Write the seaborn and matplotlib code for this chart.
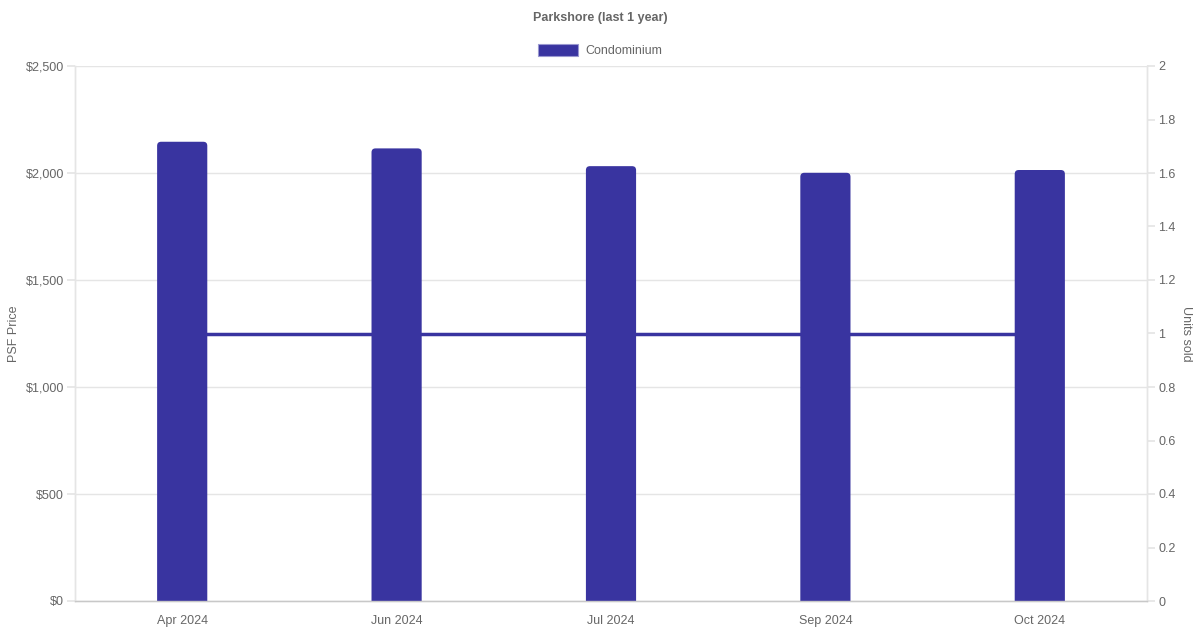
import matplotlib
matplotlib.use("Agg")
import matplotlib.pyplot as plt
import seaborn as sns
import pandas as pd
from matplotlib.ticker import FuncFormatter, MultipleLocator
from matplotlib.patches import Rectangle, FancyBboxPatch

months = ["Apr 2024", "Jun 2024", "Jul 2024", "Sep 2024", "Oct 2024"]
psf_price = [2146, 2115, 2032, 2001, 2014]
units_sold = [1, 1, 1, 1, 1]

df = pd.DataFrame({"month": months, "psf": psf_price, "units": units_sold})

sns.set_theme(style="white")
plt.rcParams["font.family"] = ["Liberation Sans", "DejaVu Sans"]

color = "#3934a0"
grey = "#666666"
gridc = "#e5e5e5"

fig = plt.figure(figsize=(12, 6.3), dpi=100)
ax = fig.add_axes([75/1200, 29/630, 1072/1200, 535/630])
ax2 = ax.twinx()

sns.barplot(data=df, x="month", y="psf", ax=ax, color=color, width=0.234,
            saturation=1, edgecolor=color, linewidth=0)
sns.lineplot(data=df, x="month", y="units", ax=ax2, color=color, linewidth=2.5,
             sort=False)

ax.set_ylim(0, 2500)
ax.set_xlim(-0.5, 4.5)

# rounded top corners: replace bar rectangles with rounded boxes (bottom hidden below axis)
px_x = 5 / 1072  # data units per pixel (x)
px_y = 2500 / 535
r_x = 4 * px_x
aspect = px_y / px_x
for p in list(ax.patches):
    x, y = p.get_x(), p.get_y()
    w, h = p.get_width(), p.get_height()
    fb = FancyBboxPatch((x, y - 40), w, h + 40,
                        boxstyle=f"round,pad=0,rounding_size={r_x}",
                        mutation_aspect=aspect, facecolor=color,
                        edgecolor="none", linewidth=0, zorder=p.get_zorder())
    fb.set_clip_on(True)
    p.remove()
    ax.add_patch(fb)

ax.set_zorder(ax2.get_zorder() + 1)
ax.patch.set_visible(False)

ax.yaxis.set_major_locator(MultipleLocator(500))
ax.yaxis.set_major_formatter(FuncFormatter(lambda v, p: f"${v:,.0f}"))
ax2.set_ylim(0, 2)
ax2.yaxis.set_major_locator(MultipleLocator(0.2))
ax2.yaxis.set_major_formatter(FuncFormatter(lambda v, p: f"{v:g}"))

ax.grid(axis="y", color=gridc, linewidth=1)
ax.grid(axis="x", visible=False)
ax2.grid(False)

for a in (ax, ax2):
    for s in a.spines.values():
        s.set_color(gridc)
        s.set_linewidth(1)
    a.spines["top"].set_visible(False)
ax.spines["bottom"].set_color("#c8c8c8")

ax.tick_params(axis="y", colors=grey, labelsize=9, length=6, color=gridc, pad=2, left=True)
ax.tick_params(axis="x", colors=grey, labelsize=9, length=0, pad=10, bottom=False)
ax2.tick_params(axis="y", colors=grey, labelsize=9, length=6, color=gridc, pad=2, right=True)
for lbl in ax.get_xticklabels() + ax.get_yticklabels() + ax2.get_yticklabels():
    lbl.set_color(grey)

ax.set_xlabel("")
ax.set_ylabel("PSF Price", color=grey, fontsize=9, labelpad=4)
ax2.set_ylabel("Units sold", color=grey, fontsize=9, rotation=270, labelpad=12)

fig.text(0.5, 1 - 17/630, "Parkshore (last 1 year)", ha="center", va="center_baseline",
         fontsize=9, fontweight="bold", color=grey)

# legend
fig.patches.append(Rectangle((538/1200, 1 - 56/630), 40/1200, 12/630,
                             transform=fig.transFigure, facecolor=color,
                             edgecolor="#9a98d0", linewidth=0.8))
fig.text(585/1200, 1 - 50/630, "Condominium", ha="left", va="center_baseline",
         fontsize=9, color=grey)

fig.savefig("out.png", dpi=100)
